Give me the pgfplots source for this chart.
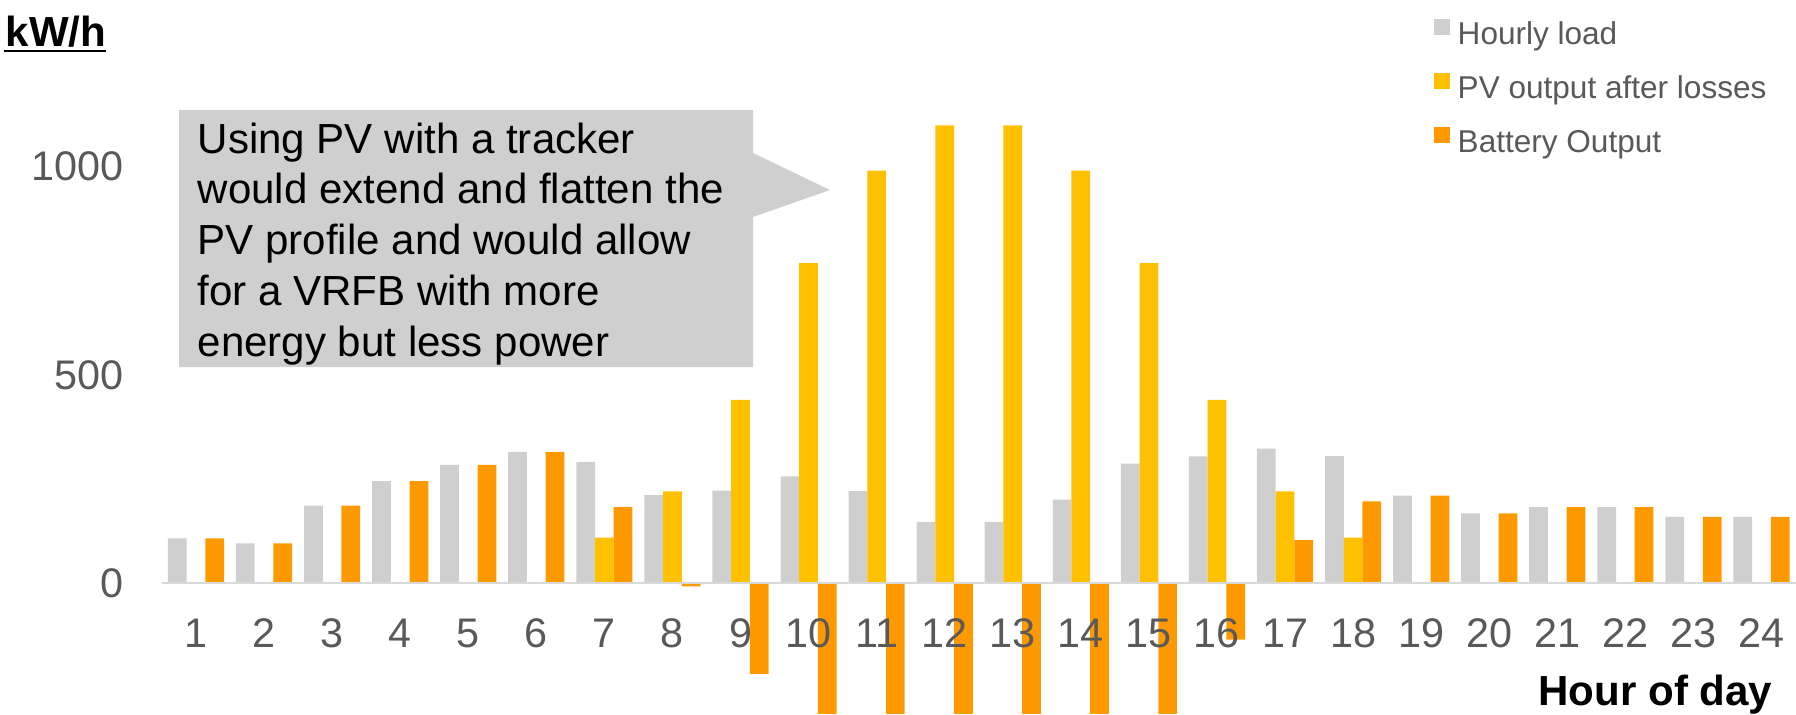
\documentclass[border=0pt]{standalone}
\usepackage{fontspec}
\setmainfont{Liberation Sans}
\usepackage{pgfplots}
\pgfplotsset{compat=1.18}

\definecolor{loadgray}{HTML}{CFCFCF}
\definecolor{pvyellow}{HTML}{FFC000}
\definecolor{batorange}{HTML}{FF9900}
\definecolor{tickgray}{HTML}{595959}
\definecolor{linegray}{HTML}{D9D9D9}

\begin{document}
\begin{tikzpicture}
\begin{axis}[
    scale only axis,
    width=16.376cm, height=6.321cm,
    xmin=0.5, xmax=24.5,
    ymin=-314, ymax=1200,
    axis on top,
    axis x line*=middle,
    axis y line*=left,
    x axis line style={draw=linegray, line width=0.6pt},
    y axis line style={draw=none},
    hide obscured x ticks=false,
    hide obscured y ticks=false,
    xtick={1,...,24},
    ytick={0,500,1000},
    major tick length=0pt,
    tick label style={font=\fontsize{11.8}{14}\selectfont, text=tickgray},
    /pgf/number format/assume math mode=true,
    /pgf/number format/1000 sep={},
    xticklabel style={anchor=base, inner sep=0pt, yshift=-0.648cm},
    yticklabel style={anchor=east, inner sep=0pt, xshift=-0.381cm},
    ybar=0pt, bar width=0.275,
    legend cell align=left,
    legend image code/.code={\fill[#1] (0cm,0.03cm) rectangle (0.16cm,0.19cm);},
    legend style={at={(0.7785,1.1142)}, anchor=north west, draw=none, fill=none,
        inner sep=0pt, outer sep=0pt, row sep=0pt, column sep=2.3pt,
        font=\fontsize{9}{11}\selectfont, text=tickgray,
        nodes={inner sep=0pt, text height=9.6pt, text depth=5.8pt}},
]
% hourly load
\addplot[fill=loadgray, draw=none] coordinates {
 (1,107) (2,95) (3,186) (4,245) (5,284) (6,315) (7,291) (8,211)
 (9,222) (10,256) (11,221) (12,147) (13,147) (14,200) (15,287) (16,304)
 (17,323) (18,305) (19,210) (20,167) (21,182) (22,182) (23,159) (24,159)};
% PV output after losses
\addplot[fill=pvyellow, draw=none] coordinates {
 (7,109) (8,220) (9,440) (10,768) (11,990) (12,1099)
 (13,1099) (14,990) (15,768) (16,440) (17,220) (18,109)};
% battery output = load - PV
\addplot[fill=batorange, draw=none] coordinates {
 (1,107) (2,95) (3,186) (4,245) (5,284) (6,315) (7,182) (8,-8)
 (9,-218) (10,-512) (11,-769) (12,-952) (13,-952) (14,-790) (15,-481) (16,-136)
 (17,103) (18,196) (19,210) (20,167) (21,182) (22,182) (23,159) (24,159)};
\legend{Hourly load, PV output after losses, Battery Output}
\end{axis}

\coordinate (TL) at ([xshift=-1.6236cm, yshift=7.1557cm]current axis.south west);
\begin{scope}[shift={(TL)}, x=0.010022cm, y=-0.010022cm]
  % callout
  \fill[loadgray] (179,110) -- (753,110) -- (753,153) -- (830,190) -- (753,217)
      -- (753,367) -- (179,367) -- cycle;
  \begin{scope}[every node/.style={anchor=base west, inner sep=0pt,
      font=\fontsize{12}{14}\selectfont}]
    \node at (197,153) {Using PV with a tracker};
    \node at (197,203.8) {would extend and flatten the};
    \node at (197,254.5) {PV profile and would allow};
    \node at (197,305.3) {for a VRFB with more};
    \node at (197,356) {energy but less power};
  \end{scope}
  % unit label
  \node[anchor=base west, inner sep=0pt, font=\fontsize{12}{14}\selectfont\bfseries] at (5,46.5) {kW/h};
  \draw[line width=0.6pt] (4,51) -- (106,51);
  % x axis title
  \node[anchor=base east, inner sep=0pt, font=\fontsize{12}{14}\selectfont\bfseries] at (1773,705) {Hour of day};
  \pgfresetboundingbox
  \path[use as bounding box] (0,0) rectangle (1796,714);
\end{scope}
\end{tikzpicture}
\end{document}
